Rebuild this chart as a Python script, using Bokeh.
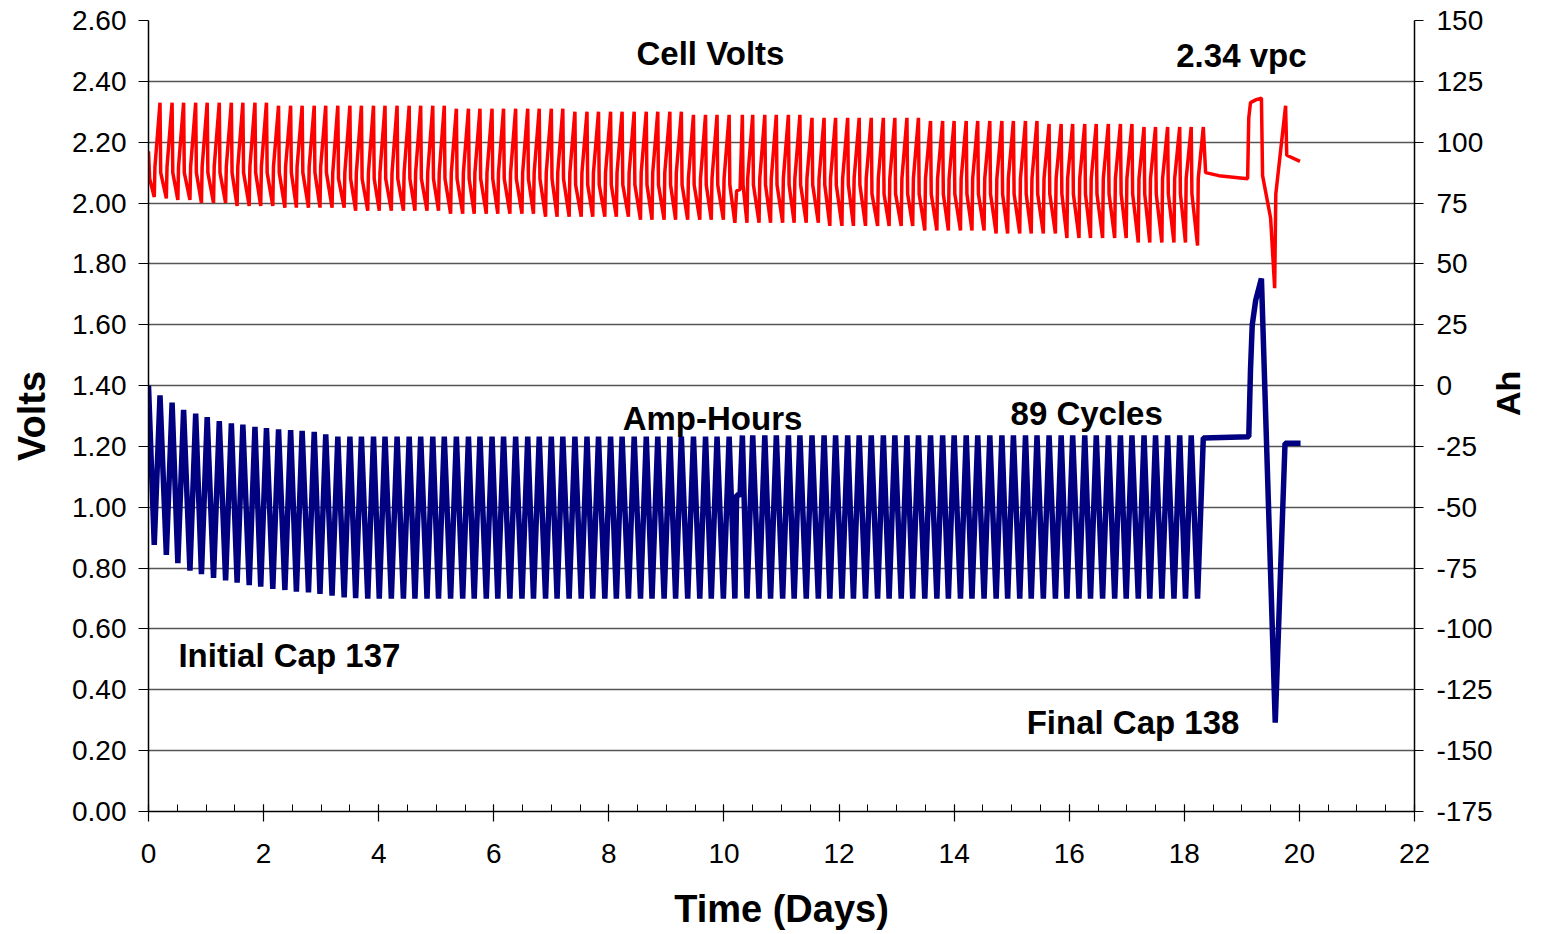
import math
from bokeh.plotting import figure
from bokeh.models import Range1d, LinearAxis, FixedTicker, NumeralTickFormatter, Label
from bokeh.embed import file_html
from bokeh.resources import INLINE

# ---------------- data ----------------
# time (days) of end-of-discharge (trough) for each of the 89 cycles
trough_t = [0.10, 0.31, 0.51, 0.72, 0.92, 1.13, 1.34, 1.54, 1.75, 1.95,
            2.16, 2.37, 2.57, 2.78, 2.98, 3.19, 3.40, 3.60, 3.81, 4.01,
            4.22, 4.43, 4.63, 4.84, 5.04, 5.25, 5.46, 5.66, 5.87, 6.07,
            6.28, 6.49, 6.69, 6.90, 7.10, 7.31, 7.52, 7.72, 7.93, 8.13,
            8.34, 8.55, 8.75, 8.96, 9.16, 9.37, 9.58, 9.78, 9.99, 10.19,
            10.40, 10.61, 10.81, 11.02, 11.22, 11.43, 11.64, 11.84, 12.05, 12.25,
            12.46, 12.67, 12.87, 13.08, 13.28, 13.49, 13.70, 13.90, 14.11, 14.31,
            14.52, 14.73, 14.93, 15.14, 15.34, 15.55, 15.76, 15.96, 16.17, 16.37,
            16.58, 16.79, 16.99, 17.20, 17.40, 17.61, 17.82, 18.02, 18.23]
# time (days) of end-of-charge (peak) for each cycle
peak_t = [0.20, 0.41, 0.61, 0.82, 1.02, 1.23, 1.44, 1.64, 1.85, 2.05,
          2.26, 2.47, 2.67, 2.88, 3.08, 3.29, 3.50, 3.70, 3.91, 4.11,
          4.32, 4.53, 4.73, 4.94, 5.14, 5.35, 5.56, 5.76, 5.97, 6.17,
          6.38, 6.59, 6.79, 7.00, 7.20, 7.41, 7.62, 7.82, 8.03, 8.23,
          8.44, 8.65, 8.85, 9.06, 9.26, 9.47, 9.68, 9.88, 10.09, 10.32,
          10.50, 10.71, 10.91, 11.12, 11.32, 11.53, 11.74, 11.94, 12.15, 12.35,
          12.56, 12.77, 12.97, 13.18, 13.38, 13.59, 13.80, 14.00, 14.21, 14.41,
          14.62, 14.83, 15.03, 15.24, 15.44, 15.65, 15.86, 16.06, 16.27, 16.47,
          16.68, 16.89, 17.09, 17.30, 17.50, 17.71, 17.92, 18.12, 18.33]

# cell volts per cycle
v_peak = [2.33] * 10 + [2.32] * 15 + [2.31] * 10 + [2.30] * 10 + [2.29] * 10 \
    + [2.28] * 10 + [2.27] * 10 + [2.26] * 8 + [2.25] * 6
v_trough = [2.02, 2.015] + [2.01] * 2 + [2.00] * 3 + [1.99] * 4 + [1.985] * 6 \
    + [1.975] * 8 + [1.965] * 8 + [1.955] * 8 + [1.945] * 8 + [1.935] * 8 \
    + [1.925] * 8 + [1.91] * 6 + [1.90] * 6 + [1.885] * 6 + [1.87] * 5 + [1.86]
v_kink_up = [2.12] * 15 + [2.10] * 30 + [2.08] * 44     # level just after charge starts
v_kink_dn = [2.10] * 15 + [2.08] * 20 + [2.06] * 25 + [2.03] * 29  # just after discharge starts

# amp-hours per cycle
ah_trough = [-65.5, -69.6, -73.0, -76.0, -77.5, -79.0, -80.0, -81.0, -82.0, -82.6,
             -83.5, -84.0, -84.7, -85.0, -85.6, -86.3, -87.0, -87.3] + [-87.5] * 71
ah_peak = [-4.0, -7.0, -10.0, -11.5, -13.0, -14.6, -15.5, -16.0, -17.0, -17.5,
           -18.0, -18.3, -18.6, -19.0, -20.0] + [-21.0] * 34 + [-20.5] * 39 + [-21.5]

# interrupted charge in cycle 49
pause_cycle = 49
pause_t = [10.22, 10.28]
pause_v = [2.04, 2.045]
pause_ah = [-45.0, -45.0]

# start of test
v_start_t = [0.0, 0.02]
v_start = [2.17, 2.08]
ah_start_t = [0.0]
ah_start = [0.0]

# float period, capacity test and recharge at the end
v_end_t = [18.37, 18.60, 19.10, 19.12, 19.15, 19.25, 19.34, 19.36, 19.50, 19.57,
           19.59, 19.76, 19.78, 20.01]
v_end = [2.10, 2.09, 2.08, 2.28, 2.33, 2.34, 2.345, 2.09, 1.95, 1.72,
         2.03, 2.32, 2.157, 2.137]
ah_end_t = [19.12, 19.15, 19.18, 19.24, 19.34, 19.58, 19.75, 20.02]
ah_end = [-21.0, 6.4, 24.8, 35.0, 44.0, -138.5, -23.7, -23.7]

# axes ticks
x_ticks = [0, 2, 4, 6, 8, 10, 12, 14, 16, 18, 20, 22]
x_minor = [0.5 * i for i in range(45)]
y_ticks = [0.0, 0.2, 0.4, 0.6, 0.8, 1.0, 1.2, 1.4, 1.6, 1.8, 2.0, 2.2, 2.4, 2.6]
ah_ticks = [-175, -150, -125, -100, -75, -50, -25, 0, 25, 50, 75, 100, 125, 150]

KINK_DT = 0.012

# ---------------- build polylines ----------------
red_t, red_v = list(v_start_t), list(v_start)
blue_t, blue_v = list(ah_start_t), list(ah_start)
for k in range(len(trough_t)):
    red_t.append(trough_t[k]); red_v.append(v_trough[k])
    blue_t.append(trough_t[k]); blue_v.append(ah_trough[k])
    if k == pause_cycle:
        red_t += pause_t; red_v += pause_v
        blue_t += pause_t; blue_v += pause_ah
    else:
        red_t.append(trough_t[k] + KINK_DT); red_v.append(v_kink_up[k])
    red_t.append(peak_t[k]); red_v.append(v_peak[k])
    blue_t.append(peak_t[k]); blue_v.append(ah_peak[k])
    if k < len(trough_t) - 1:
        red_t.append(peak_t[k] + KINK_DT); red_v.append(v_kink_dn[k])
red_t += v_end_t; red_v += v_end
blue_t += ah_end_t; blue_v += ah_end

# ---------------- figure ----------------
FONT = "Liberation Sans"
W, H = 1548, 932
p = figure(width=W, height=H, x_range=Range1d(0, 22), y_range=Range1d(0, 2.6),
           output_backend="svg", toolbar_location=None,
           min_border_left=148, min_border_right=W - 1414, min_border_top=20,
           min_border_bottom=H - 812)
p.outline_line_color = None
p.background_fill_color = "white"
p.border_fill_color = "white"
p.extra_y_ranges = {"ah": Range1d(-175, 150)}

p.xgrid.visible = False
p.ygrid.ticker = FixedTicker(ticks=y_ticks)
p.ygrid.grid_line_color = "#555555"
p.ygrid.grid_line_width = 1.3

p.line(blue_t, blue_v, y_range_name="ah", line_color="#000080", line_width=5.5)
p.line(red_t, red_v, line_color="#ff0000", line_width=3.5)

# bottom axis
xa = p.xaxis[0]
xa.ticker = FixedTicker(ticks=x_ticks, minor_ticks=x_minor)
xa.axis_label = "Time (Days)"
xa.major_tick_in = 7
xa.major_tick_out = 10
xa.minor_tick_in = 7
xa.minor_tick_out = 0
xa.major_label_standoff = 22
xa.axis_label_standoff = 22

# left axis
ya = p.yaxis[0]
ya.ticker = FixedTicker(ticks=y_ticks)
ya.formatter = NumeralTickFormatter(format="0.00")
ya.axis_label = "Volts"
ya.major_tick_in = 0
ya.major_tick_out = 10
ya.major_label_standoff = 12
ya.axis_label_standoff = 16

# right axis
ra = LinearAxis(y_range_name="ah", ticker=FixedTicker(ticks=ah_ticks),
                formatter=NumeralTickFormatter(format="0"))
ra.major_tick_in = 0
ra.major_tick_out = 9
ra.major_label_standoff = 13
p.add_layout(ra, "right")

for ax in (xa, ya, ra):
    ax.axis_line_color = "black"
    ax.axis_line_width = 1.5
    ax.major_tick_line_color = "black"
    ax.major_tick_line_width = 1.2
    ax.minor_tick_line_color = "black" if ax is xa else None
    ax.major_label_text_font = FONT
    ax.major_label_text_font_size = "28px"
    ax.major_label_text_color = "black"
    ax.axis_label_text_font = FONT
    ax.axis_label_text_font_style = "bold"
    ax.axis_label_text_font_size = "38px"
    ax.axis_label_text_color = "black"

# right axis title, reading bottom-to-top as in the reference
ra.axis_label = "Ah"
ra.axis_label_text_font_size = "34px"
ra.axis_label_standoff = 12
if "axis_label_orientation" in LinearAxis.properties():
    ra.axis_label_orientation = math.pi / 2

# annotations
notes = [("Cell Volts", 8.48, 2.491), ("2.34 vpc", 17.86, 2.485),
         ("Amp-Hours", 8.24, 1.293), ("89 Cycles", 14.98, 1.309),
         ("Initial Cap 137", 0.52, 0.512), ("Final Cap 138", 15.26, 0.292)]
for txt, x, y in notes:
    p.add_layout(Label(x=x, y=y, text=txt, text_font=FONT, text_font_style="bold",
                       text_font_size="33px", text_color="black",
                       text_align="left", text_baseline="alphabetic"))

open("out.html", "w").write(file_html(p, INLINE))
